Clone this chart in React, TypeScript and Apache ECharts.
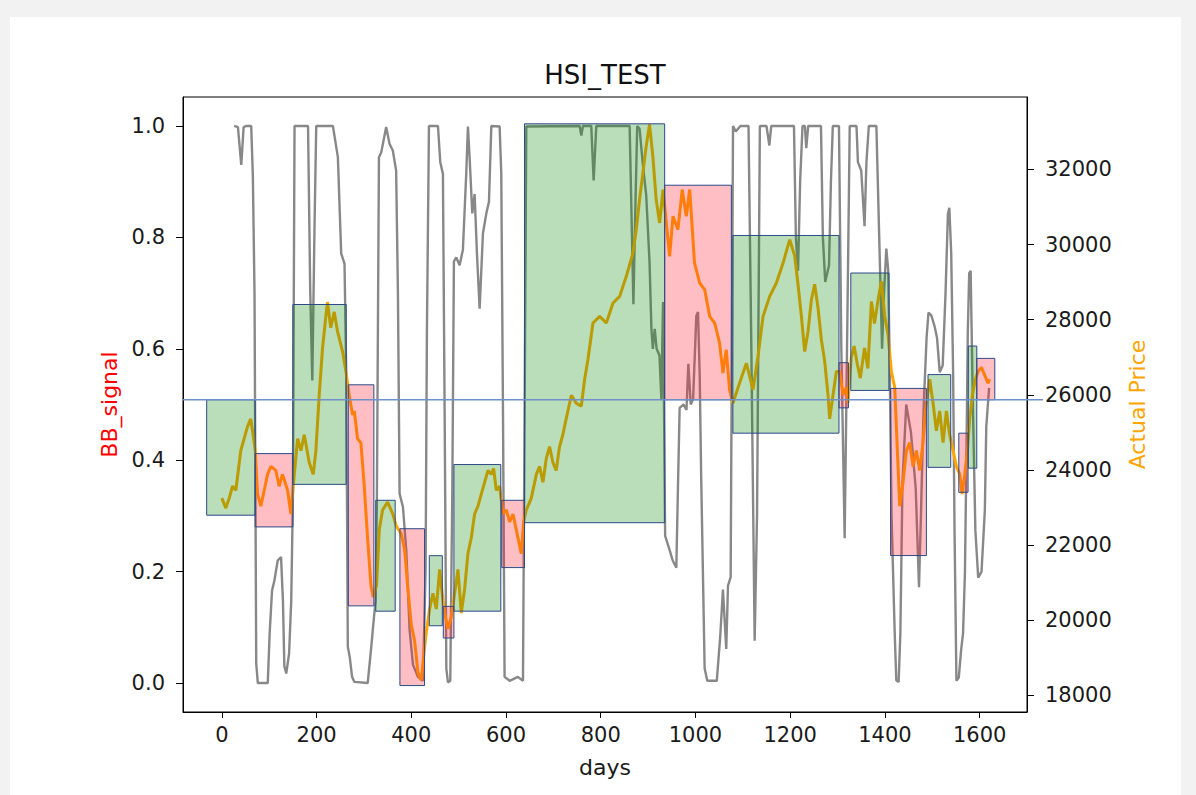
import React, { useEffect, useRef } from "react";
import * as echarts from "echarts";

const TITLE = "HSI_TEST";
const X_NAME = "days";
const LEFT_NAME = "BB_signal";
const RIGHT_NAME = "Actual Price";

const X_TICKS = [0, 200, 400, 600, 800, 1000, 1200, 1400, 1600];
const SIGNAL_TICKS = [0, 0.2, 0.4, 0.6, 0.8, 1.0];
const PRICE_TICKS = [18000, 20000, 22000, 24000, 26000, 28000, 30000, 32000];

const THRESHOLD_PRICE = 25870;

// Bollinger band signal (left axis), [day, value]
const BB_SIGNAL: [number, number][] = [
  [26, 1.0], [34, 0.998], [41, 0.93], [46, 0.998], [52, 1.0], [62, 1.0], [65.5, 0.91], [69, 0.7],
  [72.6, 0.035], [76, 0.0], [86, 0.0], [97, 0.0], [101, 0.09], [106, 0.166], [111, 0.184], [118, 0.22],
  [125, 0.226], [129, 0.148], [132, 0.03], [136, 0.017], [142, 0.053], [146.5, 0.148], [150, 0.33],
  [153.5, 1.0], [182, 1.0], [186.6, 0.705], [191, 0.543], [195.8, 0.825], [199.3, 1.0], [234.5, 1.0],
  [245, 0.944], [252, 0.771], [259, 0.753], [262.7, 0.555], [266, 0.065], [270, 0.047], [275, 0.011],
  [280, 0.002], [308, 0.0], [315.5, 0.065], [320, 0.107], [324.6, 0.148], [327.4, 0.33], [331.7, 0.944],
  [336.6, 0.953], [347, 0.998], [354, 0.968], [361, 0.956], [368, 0.92], [371.8, 0.7], [375.3, 0.34],
  [382.4, 0.316], [389.4, 0.238], [396.4, 0.096], [403.5, 0.033], [414, 0.011], [424.6, 0.004],
  [430.2, 0.203], [433, 0.63], [437.3, 1.0], [456.3, 1.0], [461.2, 0.935], [466.8, 0.914], [470.4, 0.488],
  [474, 0.026], [477.4, 0.001], [482.3, 0.004], [486.6, 0.345], [490, 0.757], [495, 0.764], [502, 0.75],
  [509, 0.778], [516, 0.914], [519.6, 0.999], [523.2, 0.942], [528.8, 0.843], [533.7, 0.878],
  [538.6, 0.772], [544.3, 0.672], [551.3, 0.807], [558.4, 0.843], [564, 0.864], [569, 1.0], [586.5, 0.999],
  [590, 0.914], [593.6, 0.488], [597, 0.011], [607.6, 0.004], [625, 0.011], [635.8, 0.004], [639.3, 0.488],
  [642.8, 0.999], [755.5, 1.0], [759, 0.983], [762.5, 1.0], [780, 1.0], [785, 0.902], [790.6, 1.0],
  [861, 1.0], [866, 0.8], [869, 0.68], [873, 0.85], [877, 1.0], [882, 0.995], [889, 0.93], [896, 0.876],
  [903, 0.756], [907, 0.636], [910, 0.6], [914, 0.636], [918, 0.6], [924, 0.588], [928, 0.51],
  [931.5, 0.684], [934, 0.46], [936, 0.264], [945, 0.24], [952, 0.22], [959.6, 0.207], [963, 0.35],
  [966.6, 0.494], [975, 0.5], [981, 0.49], [985, 0.573], [990, 0.5], [995, 0.51], [1001.8, 0.659],
  [1005.4, 0.666], [1009, 0.55], [1012, 0.374], [1019.4, 0.026], [1025, 0.004], [1045, 0.004],
  [1052, 0.08], [1058, 0.168], [1065, 0.061], [1068.7, 0.175], [1074.3, 0.19], [1079.3, 1.0],
  [1085, 0.99], [1095, 1.0], [1112, 1.0], [1118, 0.6], [1125, 0.076], [1130, 0.3], [1136, 1.0],
  [1150, 1.0], [1156, 0.965], [1160, 1.0], [1208, 1.0], [1212, 0.8], [1216.6, 0.74], [1221, 0.9],
  [1226, 1.0], [1231, 1.0], [1234, 0.96], [1238, 1.0], [1265, 1.0], [1269, 0.8], [1274, 0.72],
  [1282, 0.75], [1286, 0.9], [1290, 1.0], [1303, 1.0], [1308, 0.6], [1315, 0.26], [1320, 0.6],
  [1325.7, 1.0], [1340, 1.0], [1343, 0.935], [1350, 0.92], [1357, 0.82], [1361, 0.935], [1366, 1.0],
  [1382, 1.0], [1388, 0.8], [1394, 0.6], [1398, 0.7], [1403, 0.78], [1407, 0.74], [1410, 0.576],
  [1414, 0.3], [1420.7, 0.089], [1424, 0.005], [1429, 0.002], [1432.6, 0.089], [1435, 0.232],
  [1437, 0.358], [1445, 0.5], [1455, 0.45], [1465, 0.35], [1472, 0.172], [1476, 0.3], [1482, 0.5],
  [1488, 0.62], [1492, 0.665], [1498, 0.66], [1505, 0.64], [1510, 0.62], [1515.7, 0.558], [1522, 0.57],
  [1528, 0.7], [1533, 0.842], [1536, 0.853], [1540, 0.771], [1544, 0.558], [1547, 0.274], [1551, 0.004],
  [1556, 0.01], [1561, 0.06], [1565, 0.089], [1569, 0.2], [1572, 0.4], [1575, 0.63], [1578, 0.736],
  [1581, 0.74], [1586, 0.487], [1591, 0.274], [1597, 0.189], [1604, 0.2], [1611, 0.31], [1614, 0.46],
  [1620, 0.53],
];

// Actual price (right axis), [day, price]
const PRICE: [number, number][] = [
  [0, 23250], [8.5, 22985], [15.6, 23250], [22.6, 23566], [29.6, 23460], [40, 24515], [47, 24830],
  [54, 25148], [61, 25360], [66, 24937], [70.5, 24515], [75.4, 23355], [82.4, 23038], [89.5, 23460],
  [96.5, 23882], [103.6, 24093], [114, 23987], [121, 23566], [128, 23882], [138.8, 23460], [145.8, 22827],
  [153, 23882], [160, 24831], [167, 24515], [174, 24937], [184.5, 24199], [193, 23882], [198.6, 24515],
  [205.6, 25992], [212.7, 27257], [219.7, 28101], [223, 28470], [230, 27785], [237.3, 28207],
  [244.4, 27680], [255, 27152], [262, 26624], [269, 25992], [276, 25464], [279.6, 25570], [286.6, 24831],
  [293.6, 24726], [300.7, 23566], [307.7, 22194], [314.8, 20928], [319.7, 20612], [326.7, 20928],
  [332.4, 22405], [339.4, 22933], [350, 23144], [361, 22827], [368, 22510], [378.8, 22300],
  [385.9, 21878], [393, 20823], [400, 19874], [407, 19452], [414, 18608], [421, 18397], [426, 19030],
  [431.6, 19663], [438.7, 20296], [445.7, 20718], [452.8, 20296], [459.8, 21350], [465.4, 20718],
  [470.4, 20190], [477.4, 19768], [484.4, 20085], [491.5, 20718], [498.5, 21350], [505.6, 20190],
  [512.6, 20823], [519.6, 21772], [526.7, 22194], [533.7, 22827], [540.8, 23038], [547.8, 23355],
  [554.8, 23671], [561.9, 23987], [568.9, 23882], [573.8, 24040], [579.5, 23460], [586.5, 23566],
  [593.6, 22827], [600.6, 22933], [607.6, 22616], [614.7, 22827], [621.7, 22405], [632.3, 21772],
  [637.2, 22616], [642.8, 22933], [653.4, 23249], [664, 23882], [671, 24093], [678, 23671], [685, 24304],
  [692, 24620], [699, 24199], [706, 23987], [713, 24620], [720, 24937], [727, 25359], [738, 25990],
  [748, 25780], [759, 25700], [766, 26413], [773, 26941], [783.6, 27911], [797.7, 28089], [811.8, 27911],
  [825.9, 28444], [840, 28622], [854, 29155], [868, 29777], [875, 30400], [882, 31200], [889, 31911],
  [896, 32622], [903, 33200], [910, 32355], [917, 31200], [924.4, 30577], [931.5, 31466], [938.5, 30577],
  [945.5, 29688], [952.6, 30755], [963, 30400], [972, 31466], [980.7, 30755], [987.8, 31466],
  [998, 29511], [1009, 28977], [1019.5, 28800], [1030, 28089], [1040.6, 27911], [1051, 27378],
  [1058, 26578], [1065, 27200], [1072, 26133], [1079, 25777], [1093, 26311], [1107.5, 26844],
  [1121.5, 26133], [1132, 27022], [1142.7, 28089], [1156.7, 28622], [1170.8, 28977], [1185, 29511],
  [1199, 30133], [1209.5, 29700], [1216.5, 28945], [1223.6, 28101], [1230.6, 27152], [1237.6, 27680],
  [1244.7, 28523], [1251.7, 28945], [1258.8, 28312], [1265.8, 27469], [1272.8, 26900], [1279.9, 25992],
  [1283.4, 25359], [1290.4, 25992], [1297.5, 26624], [1304.5, 26624], [1311.6, 25992], [1318.6, 26202],
  [1322, 25781], [1329, 27000], [1335, 27300], [1342, 26800], [1348, 26444], [1357, 27250],
  [1364, 26700], [1371.5, 28489], [1378, 27900], [1385.5, 28523], [1392.5, 29022], [1399.6, 28101],
  [1406.6, 27600], [1413.6, 26624], [1420.7, 26202], [1426.3, 24515], [1431.2, 23038], [1438.3, 23671],
  [1445.3, 24515], [1452.4, 24726], [1459.4, 24093], [1466.4, 24515], [1473.5, 23987], [1480.5, 24726],
  [1485.5, 25570], [1494.6, 26413], [1501.6, 25781], [1508.7, 25042], [1515.7, 25570], [1522.8, 24726],
  [1529.8, 25570], [1536.8, 24937], [1543.9, 24515], [1551, 24093], [1558, 23882], [1563, 23355],
  [1568.5, 23882], [1574.2, 24515], [1579, 25359], [1584.7, 25992], [1591, 26413], [1596.7, 26624],
  [1603.7, 26730], [1610.8, 26519], [1617.8, 26308], [1621, 26413],
];

// Trade periods: start day, end day, low price, high price, direction
const TRADE_START = [-32, 70.5, 150, 267, 325, 376, 438, 467.6, 490, 591, 639, 935, 1079, 1303, 1328, 1412, 1491, 1556, 1576, 1594];
const TRADE_END = [70.5, 150, 262.6, 321, 366, 428, 465.5, 490, 589, 639, 935, 1075.8, 1303, 1323, 1408.6, 1487.6, 1539, 1575.5, 1594, 1632];
const TRADE_LOW = [22795, 22483, 23616, 20381, 20240, 18259, 19851, 19525, 20240, 21400, 22595, 25870, 24979, 25653, 26117, 21720, 24069, 23405, 24048, 25870];
const TRADE_HIGH = [25870, 24435, 28405, 26267, 23192, 22435, 21717, 20368, 24144, 23192, 33216, 31581, 30243, 26855, 29243, 26171, 26539, 24979, 27299, 26971];
const TRADE_SIDE = ["up", "down", "up", "down", "up", "down", "up", "down", "up", "down", "up", "down", "up", "down", "up", "down", "up", "down", "up", "down"];

const FONT = "DejaVu Sans";
const THRESHOLD_COLOR = "#6f90c8";
const X_MIN = -82;
const X_MAX = 1700;

export default function App() {
  const ref = useRef<HTMLDivElement>(null);

  useEffect(() => {
    if (!ref.current) return;
    const chart = echarts.init(ref.current, null, { renderer: "svg" });

    const boxes = TRADE_START.map((s, i) => [
      s,
      TRADE_END[i],
      TRADE_LOW[i],
      TRADE_HIGH[i],
      TRADE_SIDE[i] === "up" ? 1 : 0,
    ]);

    const labelStyle = { fontSize: 21, color: "#1a1a1a", fontFamily: FONT };
    const axisLine = { show: true, onZero: false, lineStyle: { color: "#000", width: 1 } };
    const nameStyle = { fontSize: 22, fontFamily: FONT };
    const titleGraphic = {
      type: "text",
      x: 605,
      y: 75,
      style: {
        text: TITLE,
        fontSize: 26,
        fontFamily: FONT,
        fill: "#111",
        textAlign: "center",
        textVerticalAlign: "middle",
      },
    };

    chart.setOption({
      animation: false,
      backgroundColor: "transparent",
      textStyle: { fontFamily: FONT },
      grid: {
        left: 183,
        top: 97,
        width: 844,
        height: 615,
        show: true,
        borderColor: "#000",
        borderWidth: 1,
        backgroundColor: "transparent",
      },
      graphic: [titleGraphic],
      xAxis: {
        type: "value",
        min: X_MIN,
        max: X_MAX,
        name: X_NAME,
        nameLocation: "middle",
        nameGap: 44,
        nameTextStyle: { ...nameStyle, color: "#1a1a1a" },
        axisLine,
        axisTick: { show: true, length: 6, customValues: X_TICKS, lineStyle: { color: "#000" } },
        axisLabel: {
          ...labelStyle,
          margin: 12,
          customValues: X_TICKS,
          formatter: (v: number) => String(v),
        },
        splitLine: { show: false },
      },
      yAxis: [
        {
          type: "value",
          min: -0.052,
          max: 1.052,
          position: "left",
          name: LEFT_NAME,
          nameLocation: "middle",
          nameRotate: 90,
          nameGap: 62,
          nameTextStyle: { ...nameStyle, color: "#ff0000" },
          axisLine,
          axisTick: { show: true, length: 7, customValues: SIGNAL_TICKS, lineStyle: { color: "#000" } },
          axisLabel: {
            ...labelStyle,
            margin: 18,
            customValues: SIGNAL_TICKS,
            formatter: (v: number) => v.toFixed(1),
          },
          splitLine: { show: false },
        },
        {
          type: "value",
          min: 17555,
          max: 33930,
          position: "right",
          name: RIGHT_NAME,
          nameLocation: "middle",
          nameRotate: 90,
          nameGap: 99,
          nameTextStyle: { ...nameStyle, color: "#ffa500" },
          axisLine,
          axisTick: { show: true, length: 7, customValues: PRICE_TICKS, lineStyle: { color: "#000" } },
          axisLabel: {
            ...labelStyle,
            margin: 18,
            customValues: PRICE_TICKS,
            formatter: (v: number) => String(v),
          },
          splitLine: { show: false },
        },
      ],
      series: [
        {
          name: "BB_signal",
          type: "line",
          yAxisIndex: 0,
          data: BB_SIGNAL,
          showSymbol: false,
          symbol: "none",
          lineStyle: { color: "#888888", width: 2.4 },
          z: 2,
          silent: true,
        },
        {
          name: "Actual Price",
          type: "line",
          yAxisIndex: 1,
          data: PRICE,
          showSymbol: false,
          symbol: "none",
          lineStyle: { color: "#ffa500", width: 3 },
          z: 2,
          silent: true,
        },
        {
          name: "trades",
          type: "custom",
          yAxisIndex: 1,
          data: boxes,
          encode: { x: [0, 1], y: [2, 3] },
          z: 3,
          silent: true,
          renderItem: (_params: any, api: any) => {
            const x0 = api.value(0);
            const x1 = api.value(1);
            const lo = api.value(2);
            const hi = api.value(3);
            const up = api.value(4) === 1;
            const p0 = api.coord([x0, hi]);
            const p1 = api.coord([x1, lo]);
            return {
              type: "rect",
              shape: { x: p0[0], y: p0[1], width: p1[0] - p0[0], height: p1[1] - p0[1] },
              style: {
                fill: up ? "rgba(0,128,0,0.27)" : "rgba(255,20,40,0.28)",
                stroke: "#2c4a8a",
                lineWidth: 1,
              },
            };
          },
        },
      ],
    });

    // Threshold line at a price level; it runs a little past the right spine.
    const y = chart.convertToPixel({ yAxisIndex: 1 }, THRESHOLD_PRICE) as number;
    const xl = chart.convertToPixel({ xAxisIndex: 0 }, X_MIN) as number;
    const xr = chart.convertToPixel({ xAxisIndex: 0 }, X_MAX) as number;
    chart.setOption({
      graphic: [
        titleGraphic,
        {
          type: "line",
          shape: { x1: xl, y1: y, x2: xr + 16, y2: y },
          style: { stroke: THRESHOLD_COLOR, lineWidth: 1.4 },
          silent: true,
          z: 10,
        },
      ],
    });

    return () => chart.dispose();
  }, []);

  return (
    <div
      style={{
        position: "absolute",
        left: 0,
        top: 0,
        width: 1196,
        height: 795,
        background: "#f2f2f2",
        overflow: "hidden",
      }}
    >
      <div
        style={{ position: "absolute", left: 10, top: 17, width: 1171, height: 778, background: "#ffffff" }}
      />
      <div ref={ref} style={{ position: "absolute", left: 0, top: 0, width: 1196, height: 795 }} />
    </div>
  );
}
